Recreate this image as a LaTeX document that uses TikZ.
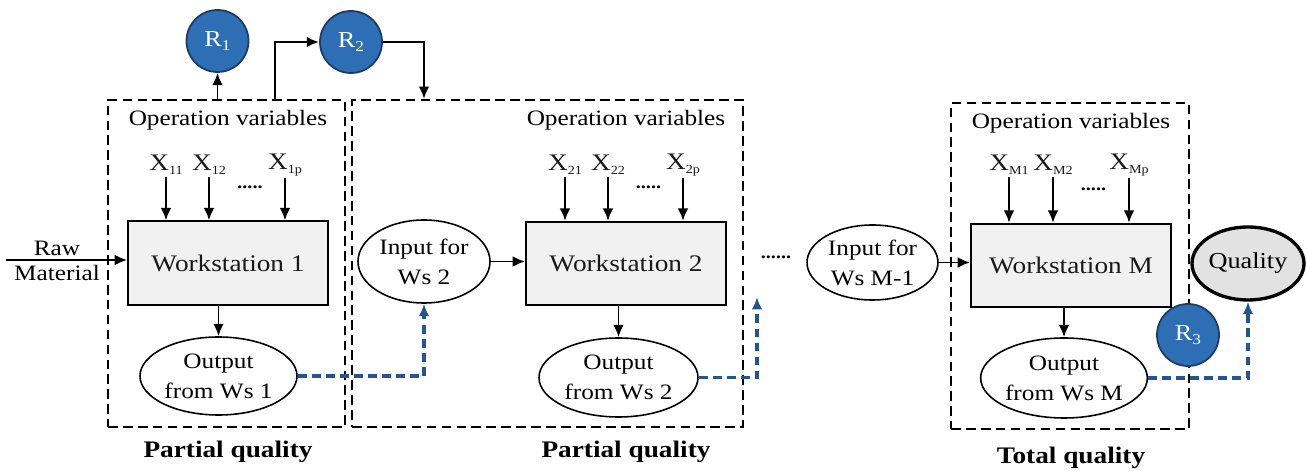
\documentclass[tikz,border=0pt]{standalone}
\usepackage{fontspec}
\setmainfont{Liberation Serif}[FakeStretch=1.15]
\usetikzlibrary{arrows.meta,positioning,shapes.geometric}

\definecolor{rblue}{RGB}{46,110,181}
\definecolor{rline}{RGB}{28,58,98}
\definecolor{flowblue}{RGB}{38,84,140}
\definecolor{wsgray}{RGB}{241,241,241}
\definecolor{qgray}{RGB}{226,226,226}

% small lowered index, as in X_11
\newcommand\lowidx[2][7]{\raisebox{-0.35ex}{\fontsize{#1}{#1}\selectfont #2}}

\tikzset{
  stage/.style={draw, line width=1.1pt, dash pattern=on 5.5pt off 3pt, inner sep=0pt},
  wsbox/.style={draw, line width=1.1pt, fill=wsgray, minimum width=4cm,
    minimum height=1.67cm, font=\fontsize{13.5}{15}\selectfont, text=black!90},
  flow/.style={draw, ellipse, line width=0.9pt, fill=white, inner sep=0pt,
    align=center, font=\fontsize{12.5}{17}\selectfont},
  rnode/.style={circle, draw=rline, line width=1pt, fill=rblue, text=white,
    minimum size=1.24cm, inner sep=0pt, font=\fontsize{13}{15}\selectfont},
  var/.style={font=\fontsize{13.5}{15}\selectfont, text=black!90, inner sep=1pt},
  pipe/.style={-{Latex[length=7pt,width=6pt]}, line width=1.1pt},
  handoff/.style={-{Latex[length=7pt,width=6pt]}, draw=flowblue,
    line width=1.8pt, dash pattern=on 5pt off 3pt},
  verdict/.style={font=\fontsize{13.5}{15}\selectfont\bfseries},
}

\begin{document}
\begin{tikzpicture}[font=\fontsize{12.5}{14}\selectfont]
  \useasboundingbox (0,0) rectangle (26.14,-9.42);

  % Stage frames
  \node[stage, minimum width=4.74cm, minimum height=6.54cm] (stage1) at (4.53,-5.27) {};
  \node[stage, minimum width=7.82cm, minimum height=6.54cm] (stage2) at (10.95,-5.27) {};
  \node[stage, minimum width=4.76cm, minimum height=6.52cm] (stageM) at (21.4,-5.32) {};

  % Workstations
  \node[wsbox] (ws1) at (4.56,-5.26) {Workstation 1};
  \node[wsbox] (ws2) at (12.52,-5.27) {Workstation 2};
  \node[wsbox] (wsM) at (21.42,-5.31) {Workstation M};

  % Operation variables
  \node[below=3pt] (ov1) at (stage1.north -| ws1) {Operation variables};
  \node[below=3pt] (ov2) at (stage2.north -| ws2) {Operation variables};
  \node[below=3pt] (ovM) at (stageM.north -| wsM) {Operation variables};

  \foreach \name/\x/\sub/\ws in {x11/3.32/11/ws1, x12/4.18/12/ws1, x1p/5.7/1p/ws1,
      x21/11.3/21/ws2, x22/12.16/22/ws2, x2p/13.66/2p/ws2,
      xM1/20.18/M1/wsM, xM2/21.06/M2/wsM, xMp/22.58/Mp/wsM} {
    \node[var] (\name) at (\x,-3.3) {X\lowidx{\sub}};
    \draw[pipe] (\name) -- (\name |- \ws.north);
  }
  \node[font=\bfseries] (gap1) at (5.0,-3.74) {.....};
  \node[font=\bfseries] (gap2) at (12.97,-3.74) {.....};
  \node[font=\bfseries] (gapM) at (21.87,-3.78) {.....};

  % Raw material feed
  \node[align=center, inner sep=0pt] (raw) at (1.14,-5.22) {Raw\\Material};
  \coordinate (feed) at (0.12,-5.2);
  \draw[pipe] (feed) -- (feed -| ws1.west);

  % Inputs and outputs
  \node[flow, minimum width=3.14cm, minimum height=1.56cm] (out1) at (4.37,-7.52) {Output\\from Ws 1};
  \node[flow, minimum width=2.64cm, minimum height=1.66cm] (in2) at (8.48,-5.23) {Input for\\Ws 2};
  \node[flow, minimum width=3.18cm, minimum height=1.58cm] (out2) at (12.37,-7.55) {Output\\from Ws 2};
  \node[flow, minimum width=2.62cm, minimum height=1.5cm] (inM) at (17.45,-5.25) {Input for\\Ws M-1};
  \node[flow, minimum width=3.2cm, minimum height=1.6cm] (outM) at (21.28,-7.56) {Output\\from Ws M};
  \node[flow, minimum width=2.24cm, minimum height=1.46cm, fill=qgray, line width=1.9pt,
    font=\fontsize{13}{15}\selectfont] (quality) at (24.96,-5.27) {Quality};
  \node[font=\bfseries] (gapmid) at (15.52,-5.14) {......};

  \draw[pipe] (out1 |- ws1.south) -- (out1);
  \draw[pipe] (out2 |- ws2.south) -- (out2);
  \draw[pipe] (outM |- wsM.south) -- (outM);
  \draw[pipe] (in2.east) -- (in2.east -| ws2.west);
  \draw[pipe] (inM.east) -- (inM.east -| wsM.west);

  % Hand-over between stations
  \coordinate (nextin) at (15.14,-5.94);
  \draw[handoff] (out1.east) -| (in2.south);
  \draw[handoff] (out2.east) -| (nextin);
  \draw[handoff] (outM.east) -| (quality.south);

  % Quality checks
  \node[rnode] (r1) at (4.35,-0.82) {R\lowidx[8.5]{1}};
  \node[rnode] (r2) at (7.02,-0.84) {R\lowidx[8.5]{2}};
  \node[rnode] (r3) at (23.76,-6.7) {R\lowidx[8.5]{3}};
  \draw[pipe] (r1 |- stage1.north) -- (r1);
  \draw[pipe, line width=1.4pt] ([xshift=0.97cm]stage1.north) |- (r2);
  \draw[pipe, line width=1.4pt] (r2) -| (in2 |- stage2.north);

  % Stage labels
  \node[verdict, below=4pt] (verdict1) at (stage1.south -| ws1) {Partial quality};
  \node[verdict, below=4pt] (verdict2) at (stage2.south -| ws2) {Partial quality};
  \node[verdict, below=6pt] (verdictM) at (stageM.south -| wsM) {Total quality};
\end{tikzpicture}
\end{document}
